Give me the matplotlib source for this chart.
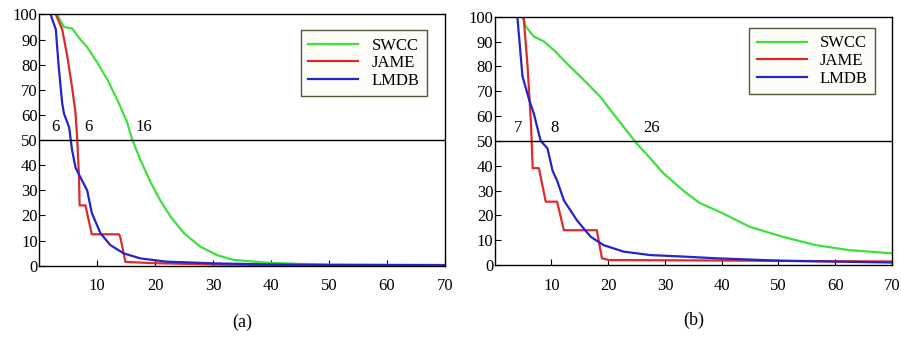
import matplotlib.pyplot as plt

# panel (a)
a_swcc_x = [3.1, 4.3, 5.7, 7.2, 8.3, 10, 11.8, 13.5, 15.2, 16.1, 17.5, 19.2, 20.9, 22.7, 25, 27.8, 30.7, 33.6, 39.3, 45, 50, 60, 70]
a_swcc_y = [100, 95, 94.4, 89.8, 87, 81, 74, 66, 57, 50, 42, 33.4, 26, 19.5, 12.9, 7.6, 4.2, 2.3, 1.2, 0.7, 0.5, 0.4, 0.3]
a_jame_x = [2.9, 4.0, 4.9, 5.7, 6.3, 6.6, 6.9, 7.0, 8.0, 9.1, 13.8, 14.0, 14.9, 20, 30, 40, 50, 70]
a_jame_y = [100, 94, 83, 71, 60.6, 50, 35, 24, 24, 12.5, 12.5, 11.5, 1.5, 1.0, 0.5, 0.2, 0.1, 0.1]
a_lmdb_x = [2.0, 2.9, 3.4, 4.0, 4.3, 5.2, 5.7, 6.3, 7.4, 8.3, 9.1, 10.6, 12.3, 14.6, 17.5, 22, 30.7, 40, 50, 70]
a_lmdb_y = [100, 94, 79, 64.6, 60.6, 55, 46, 39, 34, 30, 21, 12.9, 8.2, 4.9, 2.9, 1.6, 0.9, 0.5, 0.3, 0.2]
a_marks = [(2.8, '6'), (8.6, '6'), (18.0, '16')]

# panel (b)
b_swcc_x = [4.9, 5.5, 6.9, 8.7, 10.4, 12.8, 15.7, 18.6, 20.4, 22.7, 25, 27.4, 29.7, 33.2, 36.1, 40.2, 44.9, 50.7, 56.6, 62.4, 70]
b_swcc_y = [100, 96, 92, 90, 86.6, 81, 74.5, 67.8, 62.4, 55.7, 49, 43, 37, 30, 25, 20.8, 15.4, 11.4, 8, 6, 4.7]
b_jame_x = [5.1, 5.8, 6.4, 6.7, 7.8, 9.0, 11.0, 12.2, 18.0, 18.9, 20.1, 40, 70]
b_jame_y = [100, 80, 57, 39, 39, 25.5, 25.5, 14, 14, 2.7, 2.0, 1.8, 1.4]
b_lmdb_x = [4.0, 4.9, 6.1, 6.9, 8.1, 9.3, 10.2, 11.0, 12.2, 14.5, 16.9, 19.2, 22.7, 27.4, 33.2, 39, 50.7, 70]
b_lmdb_y = [100, 76, 66.4, 61, 50, 47, 38, 34, 26, 18, 11.4, 8, 5.4, 4, 3.4, 2.7, 1.7, 1.0]
b_marks = [(4.1, '7'), (10.5, '8'), (27.6, '26')]

x_ticks = [10, 20, 30, 40, 50, 60, 70]
y_ticks = list(range(0, 101, 10))
names = ['SWCC', 'JAME', 'LMDB']
colors = ['#3ee03e', '#dd2a2a', '#2424c8']

plt.rcParams['font.family'] = ['Liberation Serif', 'DejaVu Serif']

fig = plt.figure(figsize=(9.01, 3.51), dpi=100)
ax1 = fig.add_axes([0.0433, 0.243, 0.4506, 0.716])
ax2 = fig.add_axes([0.549, 0.245, 0.441, 0.7075])

panels = [
    (ax1, [(a_swcc_x, a_swcc_y), (a_jame_x, a_jame_y), (a_lmdb_x, a_lmdb_y)], a_marks, '(a)', (0.956, 0.9375)),
    (ax2, [(b_swcc_x, b_swcc_y), (b_jame_x, b_jame_y), (b_lmdb_x, b_lmdb_y)], b_marks, '(b)', (0.958, 0.955)),
]

for ax, series, marks, cap, anchor in panels:
    for (xs, ys), name, c in zip(series, names, colors):
        ax.plot(xs, ys, color=c, lw=1.6, label=name)
    ax.axhline(50, color='black', lw=1)
    for xm, t in marks:
        ax.text(xm, 52, t, fontsize=12, ha='center', va='bottom')
    ax.set_xlim(0, 70)
    ax.set_ylim(0, 100)
    ax.set_xticks(x_ticks)
    ax.set_yticks(y_ticks)
    ax.tick_params(axis='x', direction='in', length=4, pad=9, labelsize=12)
    ax.tick_params(axis='y', direction='in', length=4, pad=1, labelsize=12)
    for s in ax.spines.values():
        s.set_linewidth(1)
    leg = ax.legend(loc='upper right', bbox_to_anchor=anchor, fontsize=12,
                    handlelength=3.0, fancybox=False, framealpha=1, borderaxespad=0,
                    edgecolor='#55553a', borderpad=0.45, labelspacing=0.1)
    leg.get_frame().set_facecolor('#fdfdf8')
    ax.text(0.5, -0.224, cap, transform=ax.transAxes, fontsize=13, ha='center', va='center')

fig.savefig('out.png', dpi=100)
